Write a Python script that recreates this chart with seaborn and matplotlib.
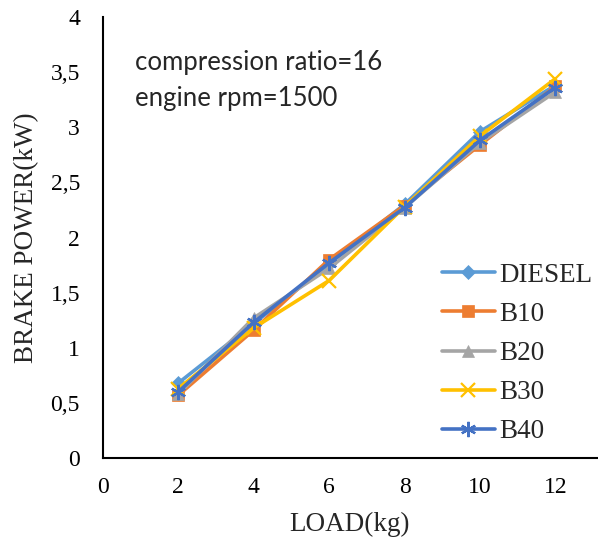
import matplotlib
matplotlib.use("Agg")
import matplotlib.pyplot as plt
from matplotlib.ticker import FuncFormatter, MultipleLocator
import seaborn as sns
import pandas as pd

load = [2, 4, 6, 8, 10, 12]
diesel = [0.68, 1.22, 1.76, 2.30, 2.96, 3.38]
b10 = [0.57, 1.16, 1.80, 2.29, 2.84, 3.37]
b20 = [0.58, 1.27, 1.72, 2.27, 2.86, 3.32]
b30 = [0.63, 1.18, 1.61, 2.28, 2.92, 3.44]
b40 = [0.60, 1.23, 1.77, 2.27, 2.88, 3.36]
series_names = ["DIESEL", "B10", "B20", "B30", "B40"]
series_values = [diesel, b10, b20, b30, b40]
colors = ["#5B9BD5", "#ED7D31", "#A5A5A5", "#FFC000", "#4472C4"]
markers = ["D", "s", "^", "x", (6, 2, 0)]
msizes = [7, 9, 9, 10, 11]

sns.set_style("white")
plt.rcParams['font.family'] = ['Liberation Serif', 'DejaVu Serif']

fig = plt.figure(figsize=(5.98, 5.46), dpi=100)
ax = fig.add_axes([0.172, 0.161, 0.826, 0.808])

for name, vals, c, m, ms in zip(series_names, series_values, colors, markers, msizes):
    df = pd.DataFrame({"LOAD": load, "BP": vals})
    sns.lineplot(data=df, x="LOAD", y="BP", ax=ax, color=c, marker=m,
                 markersize=ms, linewidth=2.6, label=name,
                 markeredgecolor=c, markeredgewidth=1.6 if m in ("x", (6, 2, 0)) else 0.5)

ax.set_xlim(0, 13.1)
ax.set_ylim(0, 4)
ax.xaxis.set_major_locator(MultipleLocator(2))
ax.yaxis.set_major_locator(MultipleLocator(0.5))
fmt = FuncFormatter(lambda v, p: (f"{v:g}").replace(".", ","))
ax.xaxis.set_major_formatter(fmt)
ax.yaxis.set_major_formatter(fmt)

for s in ["top", "right"]:
    ax.spines[s].set_visible(False)
for s in ["left", "bottom"]:
    ax.spines[s].set_color("black")
    ax.spines[s].set_linewidth(1.5)

ax.tick_params(axis="both", direction="inout", length=11, width=1.2,
               labelsize=17, colors="black")
ax.tick_params(axis="x", pad=8)
ax.tick_params(axis="y", pad=11)

ax.set_xlabel("LOAD(kg)", fontsize=19.5, labelpad=10)
ax.set_ylabel("BRAKE POWER(kW)", fontsize=19.5, labelpad=8)

ax.text(0.065, 0.925, "compression ratio=16\nengine rpm=1500", transform=ax.transAxes,
        fontsize=18.5, family=["Lato", "DejaVu Sans"], va="top", ha="left",
        linespacing=1.55)

leg = ax.legend(loc="center left", bbox_to_anchor=(0.664, 0.237), frameon=False,
                fontsize=19.5, handlelength=1.96, handletextpad=0.18,
                labelspacing=0.52, borderaxespad=0)

fig.savefig("out.png", dpi=100, facecolor="white")
